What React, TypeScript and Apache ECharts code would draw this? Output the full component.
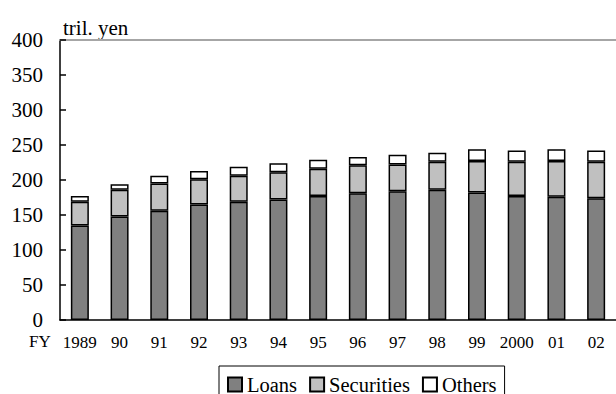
import React, { useEffect, useRef } from "react";
import * as echarts from "echarts";

const categories = ["1989", "90", "91", "92", "93", "94", "95", "96", "97", "98", "99", "2000", "01", "02"];
const loans = [135, 148, 156, 165, 169, 172, 177, 181, 184, 186, 182, 177, 176, 174];
const securities = [34, 38, 39, 36, 37, 39, 39, 40, 38, 40, 45, 49, 51, 52];
const others = [8, 8, 11, 12, 13, 13, 13, 12, 14, 13, 17, 16, 17, 16];
const yTicks = [0, 50, 100, 150, 200, 250, 300, 350, 400];

const FONT = "Times New Roman, Liberation Serif, serif";

export default function App() {
  const ref = useRef<HTMLDivElement>(null);
  useEffect(() => {
    document.body.style.margin = "0";
    const chart = echarts.init(ref.current!, null, { renderer: "svg" });
    const barStyle = (color: string) => ({
      color,
      borderColor: "#000",
      borderWidth: 1.5,
    });
    chart.setOption({
      animation: false,
      backgroundColor: "#fff",
      textStyle: { fontFamily: FONT, color: "#000" },
      grid: { left: 60, top: 40, width: 574, height: 280, containLabel: false },
      legend: {
        left: 219,
        top: 366,
        itemWidth: 14,
        itemHeight: 14,
        itemGap: 12,
        padding: [8, 8, 10, 8],
        borderColor: "#000",
        borderWidth: 1,
        icon: "rect",
        textStyle: { fontFamily: FONT, fontSize: 20.5, color: "#000" },
        data: ["Loans", "Securities", "Others"],
      },
      xAxis: [
        {
          type: "category",
          data: categories,
          axisLine: { lineStyle: { color: "#000", width: 1.5 } },
          axisTick: { inside: true, length: 5, lineStyle: { color: "#000", width: 1.5 } },
          axisLabel: { fontFamily: FONT, fontSize: 17, color: "#000", margin: 14, interval: 0 },
        },
        {
          type: "category",
          data: categories,
          position: "top",
          axisLine: { lineStyle: { color: "#a6a6a6", width: 2 } },
          axisTick: { show: false },
          axisLabel: { show: false },
        },
      ],
      yAxis: {
        type: "value",
        min: yTicks[0],
        max: yTicks[yTicks.length - 1],
        interval: 50,
        name: "tril. yen",
        nameLocation: "end",
        nameGap: 2,
        nameTextStyle: { fontFamily: FONT, fontSize: 21, color: "#000", align: "left", padding: [0, 0, 0, 3] },
        axisLine: { show: true, lineStyle: { color: "#000", width: 1.5 } },
        axisTick: { show: true, inside: true, length: 6, lineStyle: { color: "#000", width: 1.5 } },
        axisLabel: { fontFamily: FONT, fontSize: 21, color: "#000", margin: 17 },
        splitLine: { show: false },
      },
      graphic: [
        {
          type: "text",
          left: 29,
          top: 333,
          style: { text: "FY", fontFamily: FONT, fontSize: 17, fill: "#000" },
        },
      ],
      series: [
        { name: "Loans", type: "bar", stack: "a", barWidth: 18, data: loans, itemStyle: barStyle("#808080") },
        { name: "Securities", type: "bar", stack: "a", barWidth: 18, data: securities, itemStyle: barStyle("#c0c0c0") },
        { name: "Others", type: "bar", stack: "a", barWidth: 18, data: others, itemStyle: barStyle("#ffffff") },
      ],
    });
    return () => chart.dispose();
  }, []);
  return <div ref={ref} style={{ width: 616, height: 394 }} />;
}
